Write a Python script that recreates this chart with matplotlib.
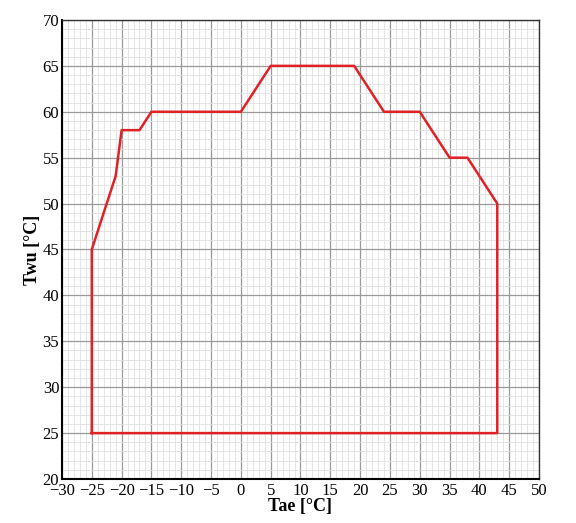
import matplotlib
matplotlib.use('Agg')
import matplotlib.pyplot as plt
from matplotlib.ticker import MultipleLocator

# Operating envelope corners (Tae, Twu)
tae = [-25, -25, -21, -20, -17, -15, 0, 5, 19, 24, 30, 35, 38, 43, 43, -25]
twu = [25, 45, 53, 58, 58, 60, 60, 65, 65, 60, 60, 55, 55, 50, 25, 25]

x_ticks = list(range(-30, 51, 5))
y_ticks = list(range(20, 71, 5))

plt.rcParams['font.family'] = ['Liberation Serif', 'DejaVu Serif']

fig = plt.figure(figsize=(5.76, 5.23), dpi=100)
ax = fig.add_axes([0.1076, 0.0841, 0.8282, 0.8777])

ax.plot(tae, twu, color='#e02126', linewidth=1.8, zorder=3)

ax.set_xlim(-30, 50)
ax.set_ylim(20, 70)
ax.set_xticks(x_ticks)
ax.set_yticks(y_ticks)
ax.set_xticklabels([f'{v}'.replace('-', '\u2212') for v in x_ticks])
ax.xaxis.set_minor_locator(MultipleLocator(1))
ax.yaxis.set_minor_locator(MultipleLocator(1))
ax.set_axisbelow(True)
ax.grid(which='major', color='#999999', linewidth=0.9)
ax.grid(which='minor', color='#e0e0e0', linewidth=0.6)
ax.tick_params(which='both', length=0, labelsize=12, colors='black')
ax.tick_params(axis='x', pad=3)
ax.tick_params(axis='y', pad=2)

for side in ['left', 'bottom']:
    ax.spines[side].set_linewidth(1.5)
    ax.spines[side].set_color('black')
for side in ['top', 'right']:
    ax.spines[side].set_linewidth(1.0)
    ax.spines[side].set_color('#333333')

ax.set_xlabel('Tae [°C]', fontsize=13, fontweight='bold', labelpad=-1)
ax.set_ylabel('Twu [°C]', fontsize=13, fontweight='bold', labelpad=1)

fig.savefig('out.png', dpi=100, facecolor='white')
